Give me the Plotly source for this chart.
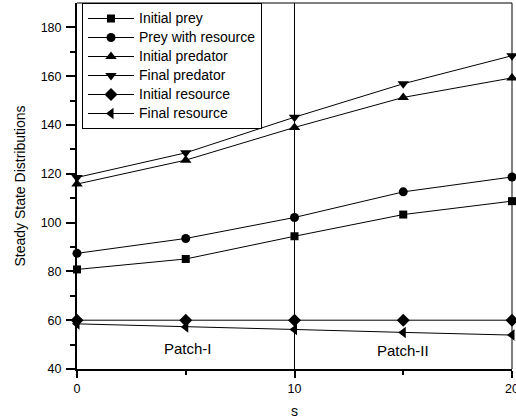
import plotly.graph_objects as go

s = [0, 5, 10, 15, 20]
initial_prey = [80.8, 85.1, 94.4, 103.3, 108.8]
prey_with_resource = [87.4, 93.5, 102.1, 112.6, 118.7]
initial_predator = [115.8, 125.6, 139.0, 151.3, 159.3]
final_predator = [118.5, 128.6, 143.2, 156.9, 168.4]
initial_resource = [60, 60, 60, 60, 60]
final_resource = [58.5, 57.2, 56.2, 55.0, 53.9]

series_names = ["Initial prey", "Prey with resource", "Initial predator",
                "Final predator", "Initial resource", "Final resource"]
series_values = [initial_prey, prey_with_resource, initial_predator,
                 final_predator, initial_resource, final_resource]
symbols = ["square", "circle", "triangle-up", "triangle-down", "diamond", "triangle-left"]
sizes = [8, 9, 10, 10, 10, 10]

fig = go.Figure()
for name, vals, sym, sz in zip(series_names, series_values, symbols, sizes):
    fig.add_trace(go.Scatter(
        x=s, y=vals, name='<span style="font-size:14px">' + name + '</span>',
        mode="lines+markers",
        line=dict(color="black", width=1),
        marker=dict(symbol=sym, size=sz, color="black"),
        cliponaxis=False,
    ))

fig.add_shape(type="line", x0=10, x1=10, y0=40, y1=190, xref="x", yref="y",
              line=dict(color="black", width=1))

fig.add_annotation(x=5.1, y=48.3, text="Patch-I", showarrow=False,
                   font=dict(size=15, color="black"))
fig.add_annotation(x=15.0, y=47.6, text="Patch-II", showarrow=False,
                   font=dict(size=15, color="black"))

fig.update_layout(
    width=516, height=419,
    margin=dict(l=77, r=4, t=3, b=50),
    paper_bgcolor="white", plot_bgcolor="white",
    font=dict(family="Liberation Sans, Arial, sans-serif", size=12, color="black"),
    showlegend=True,
    legend=dict(x=0.0115, y=1.0, xanchor="left", yanchor="top",
                bordercolor="black", borderwidth=1, bgcolor="white",
                font=dict(size=12), tracegroupgap=0, itemwidth=46),
    xaxis=dict(range=[0, 20], tickvals=[0, 10, 20], ticks="outside", ticklen=7,
               tickwidth=1.5, tickcolor="black", automargin=False,
               ticklabeloverflow="allow",
               showgrid=False, zeroline=False, showline=True, linecolor="black",
               linewidth=2, tickfont=dict(size=12.5),
               minor=dict(tickvals=[5, 15], ticks="outside", ticklen=4, tickcolor="black"),
               title=dict(text="s", font=dict(size=14))),
    yaxis=dict(range=[40, 190], tickvals=[40, 60, 80, 100, 120, 140, 160, 180],
               ticks="outside", ticklen=9, tickwidth=1.5, tickcolor="black",
               automargin=False, tickfont=dict(size=12.5), ticklabelstandoff=2,
               showgrid=False, zeroline=False, showline=True, linecolor="black",
               linewidth=2,
               minor=dict(tickvals=[50, 70, 90, 110, 130, 150, 170], ticks="outside",
                          ticklen=5, tickcolor="black"),
               title=dict(text="Steady State Distributions", font=dict(size=14),
                          standoff=12)),
)
fig.add_shape(type="line", xref="paper", yref="paper", x0=0, x1=1, y0=1, y1=1,
              line=dict(color="black", width=1))
fig.add_shape(type="line", xref="paper", yref="paper", x0=1, x1=1, y0=0, y1=1,
              line=dict(color="black", width=1))

fig.write_html(
    "out.html",
    config={"displayModeBar": False},
    post_script="document.body.style.margin='0';document.body.style.overflow='hidden';",
)
